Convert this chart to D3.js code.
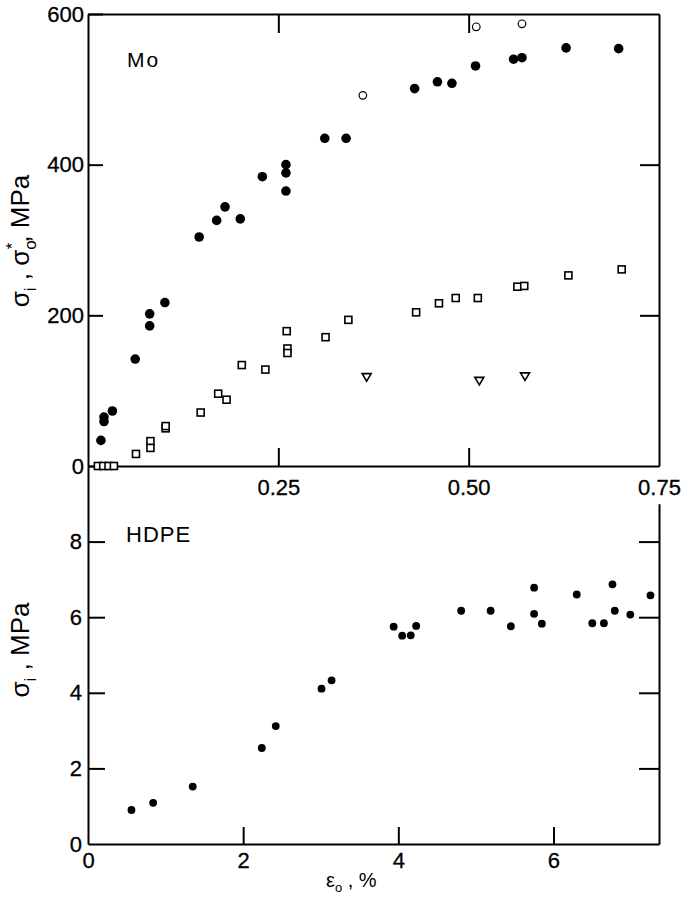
<!DOCTYPE html>
<html>
<head>
<meta charset="utf-8">
<script src="https://cdn.jsdelivr.net/npm/d3@7"></script>
<style>
  body { margin: 0; background: #fff; }
  svg { display: block; }
  .axis path, .axis line { stroke: #000; stroke-width: 2; }
  .axis text { font-family: "Liberation Sans", Arial, sans-serif; font-size: 22px; fill: #000; stroke: #000; stroke-width: 0.3; }
</style>
</head>
<body>
<div id="chart"></div>
<script>
// Mo panel: strain (%) vs stress (MPa)
var moFilled = [
  [0.017, 34], [0.021, 65], [0.021, 59], [0.032, 73], [0.062, 142],
  [0.081, 202], [0.081, 186], [0.101, 217], [0.146, 304], [0.169, 326],
  [0.180, 344], [0.200, 328], [0.229, 384], [0.260, 400], [0.260, 389],
  [0.260, 365], [0.311, 435], [0.339, 435], [0.429, 501], [0.459, 510],
  [0.478, 508], [0.509, 531], [0.559, 540], [0.570, 542], [0.628, 555],
  [0.697, 554]
];
var moOpen = [[0.361, 492], [0.510, 583], [0.570, 587]];
var moSquares = [
  [0.013, 0], [0.020, 0], [0.027, 0], [0.034, 0], [0.063, 16],
  [0.082, 33], [0.082, 24], [0.102, 50], [0.102, 53], [0.148, 71],
  [0.171, 96], [0.182, 88], [0.202, 134], [0.233, 128], [0.261, 179],
  [0.262, 156], [0.262, 150], [0.312, 171], [0.342, 194], [0.431, 204],
  [0.461, 216], [0.483, 223], [0.512, 223], [0.564, 238], [0.573, 239],
  [0.631, 253], [0.701, 261]
];
var moTriangles = [[0.366, 118], [0.514, 113], [0.574, 119]];

// HDPE panel
var hdpe = [
  [0.56, 0.90], [0.84, 1.09], [1.35, 1.52], [2.24, 2.54], [2.42, 3.12],
  [3.01, 4.11], [3.14, 4.33], [3.94, 5.75], [4.05, 5.51], [4.16, 5.52],
  [4.23, 5.77], [4.81, 6.17], [5.19, 6.17], [5.45, 5.76], [5.75, 6.78],
  [5.75, 6.09], [5.85, 5.83], [6.30, 6.60], [6.50, 5.84], [6.65, 5.84],
  [6.76, 6.87], [6.79, 6.17], [6.99, 6.07], [7.25, 6.58]
];

var moXTicks = [0.25, 0.50, 0.75];
var moYTicks = [0, 200, 400, 600];
var hdpeXTicks = [0, 2, 4, 6];
var hdpeYTicks = [0, 2, 4, 6, 8];

var W = 681, H = 897;
var left = 88, right = 659;
var topY = 14, midY = 466, botY = 844;

var svg = d3.select('#chart').append('svg')
  .attr('width', W).attr('height', H);

// ---------- top panel ----------
var x1 = d3.scaleLinear().domain([0, 0.75]).range([left, right]);
var y1 = d3.scaleLinear().domain([0, 600]).range([midY, topY]);

var g1 = svg.append('g');

g1.append('g').attr('class', 'axis')
  .attr('transform', 'translate(' + left + ',0)')
  .call(d3.axisLeft(y1).tickValues(moYTicks).tickSize(-15).tickSizeOuter(0).tickPadding(4));

g1.append('g').attr('class', 'axis')
  .attr('transform', 'translate(' + right + ',0)')
  .call(d3.axisRight(y1).tickValues([200, 400]).tickSize(-19).tickSizeOuter(0).tickFormat(''));

g1.append('g').attr('class', 'axis')
  .attr('transform', 'translate(0,' + topY + ')')
  .call(d3.axisTop(x1).tickValues([0.25, 0.5]).tickSize(-19).tickSizeOuter(0).tickFormat(''));

g1.append('g').attr('class', 'axis')
  .attr('transform', 'translate(0,' + midY + ')')
  .call(d3.axisBottom(x1).tickValues(moXTicks).tickSize(-18).tickSizeOuter(0)
    .tickPadding(13).tickFormat(d3.format('.2f')))
  .call(function(a){ a.selectAll('.tick').filter(function(d){ return d === 0.75; }).select('line').attr('y2', 0); });

g1.selectAll('circle.filled').data(moFilled).enter().append('circle')
  .attr('cx', function(d){ return x1(d[0]); })
  .attr('cy', function(d){ return y1(d[1]); })
  .attr('r', 4.8).attr('fill', '#000');

g1.selectAll('circle.open').data(moOpen).enter().append('circle')
  .attr('cx', function(d){ return x1(d[0]); })
  .attr('cy', function(d){ return y1(d[1]); })
  .attr('r', 3.8).attr('fill', 'none').attr('stroke', '#000').attr('stroke-width', 1.2);

g1.selectAll('rect.sq').data(moSquares).enter().append('rect')
  .attr('x', function(d){ return x1(d[0]) - 3.5; })
  .attr('y', function(d){ return y1(d[1]) - 3.5; })
  .attr('width', 7).attr('height', 7)
  .attr('fill', '#fff').attr('stroke', '#000').attr('stroke-width', 1.6);

g1.selectAll('path.tri').data(moTriangles).enter().append('path')
  .attr('transform', function(d){ return 'translate(' + x1(d[0]) + ',' + y1(d[1]) + ')'; })
  .attr('d', 'M-4.5,-3.5L4.5,-3.5L0,4Z')
  .attr('fill', 'none').attr('stroke', '#000').attr('stroke-width', 1.6);

g1.append('text').attr('x', 127).attr('y', 67)
  .style('font-family', 'Liberation Sans, Arial, sans-serif').style('font-size', '21px')
  .attr('letter-spacing', '2px').text('Mo');

// ---------- bottom panel ----------
var x2 = d3.scaleLinear().domain([0, 7.36]).range([left, right]);
var y2 = d3.scaleLinear().domain([0, 10]).range([botY, midY]);

var g2 = svg.append('g');

g2.append('g').attr('class', 'axis')
  .attr('transform', 'translate(' + left + ',0)')
  .call(d3.axisLeft(y2).tickValues(hdpeYTicks).tickSize(-17).tickSizeOuter(0).tickPadding(6))
  .call(function(a){ a.selectAll('.tick').filter(function(d){ return d === 0; }).select('line').attr('x2', 0); });

g2.append('g').attr('class', 'axis')
  .attr('transform', 'translate(' + right + ',0)')
  .call(d3.axisRight(y2.copy().domain([0, 9]).range([botY, y2(9)])).tickValues([2, 4, 6, 8])
    .tickSize(-20).tickSizeOuter(0).tickFormat(''));

g2.append('g').attr('class', 'axis')
  .attr('transform', 'translate(0,' + botY + ')')
  .call(d3.axisBottom(x2).tickValues(hdpeXTicks).tickSize(-17).tickSizeOuter(0).tickPadding(8))
  .call(function(a){ a.selectAll('.tick').filter(function(d){ return d === 0; }).select('line').attr('y2', 0); });

g2.selectAll('circle').data(hdpe).enter().append('circle')
  .attr('cx', function(d){ return x2(d[0]); })
  .attr('cy', function(d){ return y2(d[1]); })
  .attr('r', 3.9).attr('fill', '#000');

g2.append('text').attr('x', 126).attr('y', 542)
  .style('font-family', 'Liberation Sans, Arial, sans-serif').style('font-size', '22px')
  .attr('letter-spacing', '1px').text('HDPE');

// ---------- axis titles ----------
var font = 'Liberation Sans, Arial, sans-serif';

var t1 = svg.append('text')
  .attr('transform', 'translate(29,241) rotate(-90)')
  .attr('text-anchor', 'middle')
  .style('font-family', font).style('font-size', '26px');
t1.append('tspan').text('σ');
t1.append('tspan').attr('dy', 7).style('font-size', '17px').text('i');
t1.append('tspan').attr('dy', -7).text(' , σ');
t1.append('tspan').attr('dy', 7).style('font-size', '17px').text('o');
t1.append('tspan').attr('dy', -18).attr('dx', -9).style('font-size', '17px').text('*');
t1.append('tspan').attr('dy', 11).text(', MPa');

var t2 = svg.append('text')
  .attr('transform', 'translate(29,650) rotate(-90)')
  .attr('text-anchor', 'middle')
  .style('font-family', font).style('font-size', '26px');
t2.append('tspan').text('σ');
t2.append('tspan').attr('dy', 7).style('font-size', '17px').text('i');
t2.append('tspan').attr('dy', -7).text(' , MPa');

var t3 = svg.append('text')
  .attr('x', 326).attr('y', 887)
  .style('font-family', font).style('font-size', '20px');
t3.append('tspan').text('ε');
t3.append('tspan').attr('dy', 5).style('font-size', '13px').text('o');
t3.append('tspan').attr('dy', -5).text(' , %');
</script>
</body>
</html>
